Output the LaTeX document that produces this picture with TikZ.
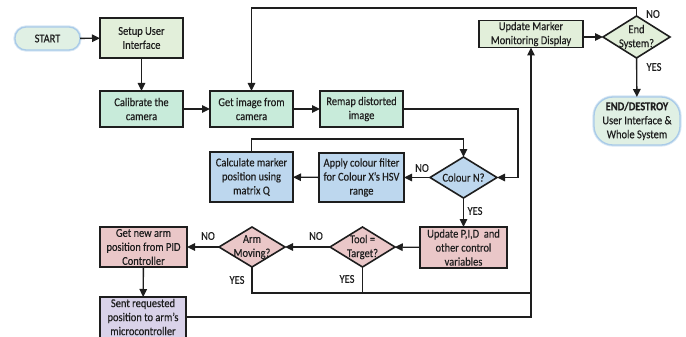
\documentclass[tikz,border=0pt]{standalone}
\usepackage{fontspec}
\setmainfont{Carlito}[FakeStretch=0.87, FakeBold=0.3]
\usetikzlibrary{shapes.geometric,arrows.meta}

\definecolor{lgreen}{HTML}{E2EFDA}
\definecolor{mint}{HTML}{C8EBDA}
\definecolor{lblue}{HTML}{BDD7EE}
\definecolor{lpink}{HTML}{EAC7C8}
\definecolor{lilac}{HTML}{D9D2E9}
\definecolor{termfill}{HTML}{E0F0E4}
\definecolor{termedge}{HTML}{A9CBE8}
\definecolor{termglow}{HTML}{D6E6F4}
\definecolor{ink}{HTML}{1E1E1E}

\tikzset{
  box/.style={draw=ink, line width=1.6pt, inner sep=0pt, outer sep=0pt,
    align=center, text=ink},
  dec/.style={diamond, draw=ink, line width=1.6pt, inner sep=0pt, outer sep=0pt,
    text=ink},
  term/.style={draw=termedge, line width=1.3pt, inner sep=0pt, outer sep=0pt,
    align=center, text=ink, fill=termfill,
    preaction={draw=termglow, line width=3.2pt}},
  wire/.style={draw=ink, line width=1.4pt},
  arr/.style={wire, -{Triangle[length=8pt,width=7.5pt]}},
  lbl/.style={inner sep=0pt, text=ink},
}

\begin{document}
\begin{tikzpicture}[x=1pt, y=-1pt, font=\fontsize{12}{14}\selectfont]
\useasboundingbox (0,0) rectangle (686,337);

% terminals
\node[term, minimum width=65pt, minimum height=23pt, rounded corners=11pt]
  (start) at (47.5,38.5) {START};
\node[term, minimum width=86pt, minimum height=48pt, rounded corners=19pt]
  (finish) at (637,121) {\textbf{END/DESTROY}\\User Interface \&\\Whole System};

% process boxes
\node[box, fill=lgreen, minimum width=83pt, minimum height=40pt]
  (setup) at (141.5,38) {Setup User\\Interface};
\node[box, fill=mint, minimum width=83pt, minimum height=36pt]
  (calib) at (141.5,109) {Calibrate the\\camera};
\node[box, fill=mint, minimum width=83pt, minimum height=36pt]
  (getimg) at (251.5,109) {Get image from\\camera};
\node[box, fill=mint, minimum width=83pt, minimum height=36pt]
  (remap) at (361.5,109) {Remap distorted\\image};
\node[box, fill=lgreen, minimum width=104pt, minimum height=27pt]
  (marker) at (531,34) {Update Marker\\Monitoring Display};
\node[box, fill=lblue, minimum width=83pt, minimum height=50pt]
  (calc) at (251.5,177) {Calculate marker\\position using\\matrix Q};
\node[box, fill=lblue, minimum width=85pt, minimum height=49pt]
  (filter) at (361.5,177.5) {Apply colour filter\\for Colour X's HSV\\range};
\node[box, fill=lpink, minimum width=87pt, minimum height=41pt]
  (pid) at (463.5,247.5) {Update P,I,D\ \ and\\other control\\variables};
\node[box, fill=lpink, minimum width=87pt, minimum height=40pt]
  (getarm) at (143.5,247) {Get new arm\\position from PID\\Controller};
% this box runs on past the lower edge; its text sits in the upper part
\node[box, fill=lilac, minimum width=86pt, minimum height=50pt,
  label={[align=center, text=ink, yshift=5pt]center:Sent requested\\position to arm's\\microcontroller}]
  (sent) at (143,322) {};

% decisions
\node[dec, fill=lgreen, minimum width=67pt, minimum height=42pt,
  label={[align=center, text=ink]center:End\\System?}] (endq) at (636.5,37) {};
\node[dec, fill=lblue, minimum width=67pt, minimum height=41pt,
  label={[text=ink]center:Colour N?}] (colour) at (463.5,177.5) {};
\node[dec, fill=lpink, minimum width=65pt, minimum height=40pt,
  label={[align=center, text=ink]center:Tool =\\Target?}] (tool) at (362.5,247) {};
\node[dec, fill=lpink, minimum width=66pt, minimum height=40pt,
  label={[align=center, text=ink]center:Arm\\Moving?}] (arm) at (252,247) {};

% junction points of the routed connectors
\coordinate (toprail) at (0,8);
\coordinate (remapturn) at (518,109);
\coordinate (calcturn) at (0,139);
\coordinate (busrail) at (531,293);
\coordinate (sentrail) at (0,317);

% connectors
\draw[arr] (start) -- (setup);
\draw[arr] (setup) -- (calib);
\draw[arr] (calib) -- (getimg);
\draw[arr] (getimg) -- (remap);
\draw[arr] (remap.east) -- (remapturn) |- (colour.east);
\draw[arr] (colour) -- (filter);
\draw[arr] (filter) -- (calc);
\draw[arr] (calc.north) -- (calc.north |- calcturn) -| (colour.north);
\draw[arr] (colour) -- (pid);
\draw[arr] (pid) -- (tool);
\draw[arr] (tool) -- (arm);
\draw[arr] (arm) -- (getarm);
\draw[arr] (getarm) -- (sent);
\draw[wire] (arm.south) |- (busrail);
\draw[wire] (tool.south) -- (tool.south |- busrail);
\draw[arr] (sent.east |- sentrail) -| (marker.south);
\draw[arr] (marker.east |- endq.west) -- (endq.west);
\draw[arr] (endq) -- (finish);
\draw[arr] (endq.north) -- (endq.north |- toprail) -| (getimg.north);

% branch labels
\node[lbl] (noend) at (653,14) {NO};
\node[lbl] (yesend) at (654,67) {YES};
\node[lbl] (nocol) at (422,168) {NO};
\node[lbl] (yescol) at (475,211) {YES};
\node[lbl] (notool) at (316,236) {NO};
\node[lbl] (noarm) at (208,236) {NO};
\node[lbl] (yesarm) at (237,280) {YES};
\node[lbl] (yestool) at (347,279) {YES};
\end{tikzpicture}
\end{document}
